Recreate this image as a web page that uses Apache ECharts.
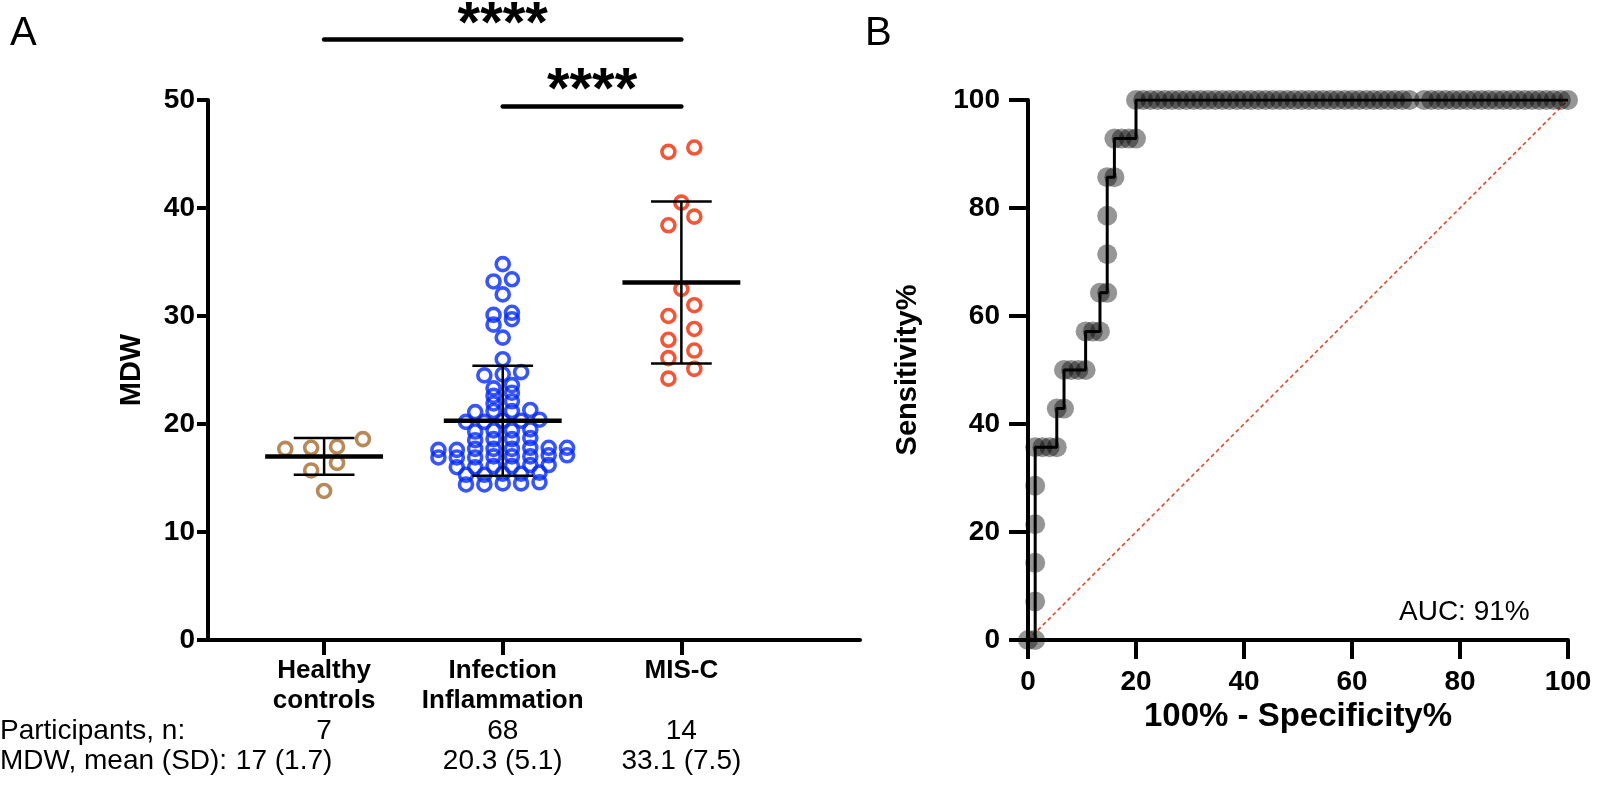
<!DOCTYPE html>
<html>
<head>
<meta charset="utf-8">
<script src="https://cdn.jsdelivr.net/npm/echarts@6/dist/echarts.min.js"></script>
<style>
  html, body { margin: 0; padding: 0; background: #fff; }
  #chart { width: 1599px; height: 800px; }
</style>
</head>
<body>
<div id="chart"></div>
<script>
// ---- panel A : MDW by group ----
const groups = ['Healthy\ncontrols', 'Infection\nInflammation', 'MIS-C']
const participants = [7, 68, 14]
const mdwMean = [17, 20.3, 33.1]
const mdwSd = [1.7, 5.1, 7.5]

const healthy = [18.6, 17.8, 17.9, 17.7, 16.4, 15.7, 13.8]
const infection = [
  14.4, 14.5, 14.6, 14.5, 14.4,
  15.3, 15.4, 15.5, 15.4, 15.3,
  16.0, 16.1, 16.2, 16.1, 16.0, 16.2,
  16.9, 17.0, 17.1, 17.0, 16.9, 17.1, 17.0, 16.9,
  17.6, 17.7, 17.8, 17.7, 17.6, 17.8, 17.7, 17.8,
  18.5, 18.6, 18.7, 18.6,
  19.3, 19.4, 19.5, 19.4,
  20.2, 20.3, 20.4, 20.3, 20.2,
  21.1, 21.2, 21.3, 21.2,
  21.9, 22.1, 22.6, 22.9, 23.3, 23.6,
  24.5, 24.6, 24.8, 26.0, 28.0,
  29.2, 29.7, 30.1, 30.3, 32.0, 33.2, 33.4, 34.8
]
const misc = [45.2, 45.6, 40.5, 38.4, 39.2, 32.5, 31.0, 30.0, 28.8, 27.8, 26.8, 26.1, 25.1, 24.2]

// significance bars: [from group, to group, height, label]
const sigBars = [[1, 3, 55.6, '****'], [2, 3, 49.4, '****']]

// ---- panel B : ROC ----
const rocFpr = [
  0, 1.33, 1.33, 1.33, 1.33, 1.33, 1.33, 2.67, 4, 5.33, 5.33, 6.67, 6.67, 8, 9.33,
  10.67, 10.67, 12, 13.33, 13.33, 14.67, 14.67, 14.67, 14.67, 16, 16, 17.33, 18.67, 20, 20,
  21.33, 22.67, 24, 25.33, 26.67, 28, 29.33, 30.67, 32, 33.33, 34.67, 36, 37.33, 38.67, 40,
  41.33, 42.67, 44, 45.33, 46.67, 48, 49.33, 50.67, 52, 53.33, 54.67, 56, 57.33, 58.67, 60,
  61.33, 62.67, 64, 65.33, 66.67, 68, 69.33, 70.67, 73.33, 74.67, 76, 77.33, 78.67, 80,
  81.33, 82.67, 84, 85.33, 86.67, 88, 89.33, 90.67, 92, 93.33, 94.67, 96, 97.33, 98.67, 100
]
const rocSens = [
  0, 0, 7.14, 14.29, 21.43, 28.57, 35.71, 35.71, 35.71, 35.71, 42.86, 42.86, 50, 50, 50,
  50, 57.14, 57.14, 57.14, 64.29, 64.29, 71.43, 78.57, 85.71, 85.71, 92.86, 92.86, 92.86, 92.86, 100,
  100, 100, 100, 100, 100, 100, 100, 100, 100, 100, 100, 100, 100, 100, 100,
  100, 100, 100, 100, 100, 100, 100, 100, 100, 100, 100, 100, 100, 100, 100,
  100, 100, 100, 100, 100, 100, 100, 100, 100, 100, 100, 100, 100, 100,
  100, 100, 100, 100, 100, 100, 100, 100, 100, 100, 100, 100, 100, 100, 100
]
const aucPct = 91

const FONT = 'Liberation Sans, Arial, sans-serif'

// GraphPad-like scatter layout: group close values into rows, spread rows sideways
function swarm(values, center, bin, spacing, maxHalf) {
  const sorted = values.slice().sort((a, b) => a - b)
  const rows = []
  sorted.forEach(v => {
    const row = rows[rows.length - 1]
    if (row && v - row[0] <= bin) row.push(v)
    else rows.push([v])
  })
  const widest = Math.max(...rows.map(r => r.length))
  const step = widest > 1 ? Math.min(spacing, 2 * maxHalf / (widest - 1)) : spacing
  const pts = []
  rows.forEach(row => row.forEach((v, i) => pts.push([center + (i - (row.length - 1) / 2) * step, v])))
  return pts
}

const chart = echarts.init(document.getElementById('chart'))

const tickLabel = { color: '#000', fontWeight: 'bold', fontSize: 28, fontFamily: FONT }
const axisCommon = {
  axisLine: { lineStyle: { color: '#000', width: 4 } },
  axisTick: { length: 15, lineStyle: { color: '#000', width: 4 } },
  splitLine: { show: false },
  nameTextStyle: { color: '#000', fontWeight: 'bold', fontSize: 29, fontFamily: FONT }
}

function dotSeries(name, values, center, bin, color) {
  return {
    name: name,
    type: 'scatter',
    xAxisIndex: 0, yAxisIndex: 0,
    symbol: 'circle',
    symbolSize: 13,
    itemStyle: { color: 'rgba(255,255,255,0)', borderColor: color, borderWidth: 3.6 },
    data: swarm(values, center, bin, 0.145, 0.36),
    z: 2
  }
}

const labelTop = 16
const lineH = 30

chart.setOption({
  animation: false,
  backgroundColor: '#fff',
  textStyle: { fontFamily: FONT },
  grid: [
    { left: 208, right: 739, top: 100, bottom: 160 },
    { left: 1028, right: 31, top: 100, bottom: 160 }
  ],
  xAxis: [
    Object.assign({}, axisCommon, {
      gridIndex: 0, type: 'value', min: 0.35, max: 4,
      axisTick: { length: 15, lineStyle: { color: '#000', width: 4 }, customValues: [1, 2, 3] },
      axisLabel: {
        customValues: [1, 2, 3],
        margin: labelTop,
        color: '#000',
        fontFamily: FONT,
        formatter: function (v) {
          const i = Math.round(v) - 1
          const name = groups[i].split('\n')
          // first group's summary sits a little to the left in the original
          const pad = i === 0 ? '{pad|}' : ''
          return [
            '{b|' + name[0] + '}',
            '{b|' + (name[1] || ' ') + '}',
            '{r|' + participants[i] + '}',
            '{r|' + mdwMean[i] + ' (' + mdwSd[i] + ')}' + pad
          ].join('\n')
        },
        rich: {
          b: { fontWeight: 'bold', fontSize: 26, lineHeight: lineH, color: '#000', fontFamily: FONT },
          r: { fontSize: 28, lineHeight: lineH, color: '#000', fontFamily: FONT },
          pad: { width: 80, lineHeight: lineH }
        }
      }
    }),
    Object.assign({}, axisCommon, {
      gridIndex: 1, type: 'value', min: 0, max: 100, interval: 20,
      axisTick: { length: 19, lineStyle: { color: '#000', width: 4 } },
      axisLabel: Object.assign({}, tickLabel, { margin: 28 }),
      name: '100% - Specificity%', nameLocation: 'middle', nameGap: 60,
      nameTextStyle: { color: '#000', fontWeight: 'bold', fontSize: 33, fontFamily: FONT }
    })
  ],
  yAxis: [
    Object.assign({}, axisCommon, {
      gridIndex: 0, type: 'value', min: 0, max: 50, interval: 10,
      axisTick: { length: 11, lineStyle: { color: '#000', width: 4 } },
      axisLabel: Object.assign({}, tickLabel, { margin: 13 }),
      name: 'MDW', nameLocation: 'middle', nameGap: 62
    }),
    Object.assign({}, axisCommon, {
      gridIndex: 1, type: 'value', min: 0, max: 100, interval: 20,
      axisTick: { length: 19, lineStyle: { color: '#000', width: 4 } },
      axisLabel: Object.assign({}, tickLabel, { margin: 28 }),
      name: 'Sensitivity%', nameLocation: 'middle', nameGap: 106
    })
  ],
  series: [
    dotSeries('Healthy controls', healthy, 1, 1.2, '#a56c30'),
    dotSeries('Infection Inflammation', infection, 2, 0.6, '#062cf5'),
    dotSeries('MIS-C', misc, 3, 1.2, '#f02c05'),
    {
      name: 'mean_sd',
      type: 'custom',
      xAxisIndex: 0, yAxisIndex: 0,
      z: 5,
      data: mdwMean.map((m, i) => [i + 1, m, mdwSd[i]]),
      renderItem: function (params, api) {
        const x = api.value(0), m = api.value(1), sd = api.value(2)
        const p = (a, b) => api.coord([a, b])
        const seg = (a, b, w) => ({
          type: 'line',
          shape: { x1: a[0], y1: a[1], x2: b[0], y2: b[1] },
          style: { stroke: '#000', lineWidth: w }
        })
        return {
          type: 'group',
          children: [
            seg(p(x, m - sd), p(x, m + sd), 2.5),
            seg(p(x - 0.17, m + sd), p(x + 0.17, m + sd), 2.5),
            seg(p(x - 0.17, m - sd), p(x + 0.17, m - sd), 2.5),
            seg(p(x - 0.33, m), p(x + 0.33, m), 4.5)
          ]
        }
      }
    },
    {
      name: 'significance',
      type: 'custom',
      xAxisIndex: 0, yAxisIndex: 0,
      clip: false,
      z: 5,
      data: sigBars,
      renderItem: function (params, api) {
        const a = api.coord([api.value(0), api.value(2)])
        const b = api.coord([api.value(1), api.value(2)])
        return {
          type: 'group',
          children: [
            {
              type: 'line',
              shape: { x1: a[0], y1: a[1], x2: b[0], y2: b[1] },
              style: { stroke: '#000', lineWidth: 4.5, lineCap: 'round' }
            },
            {
              type: 'text',
              style: {
                x: (a[0] + b[0]) / 2, y: a[1] - 14,
                text: sigBars[params.dataIndex][3],
                fill: '#000', fontSize: 58, fontWeight: 'bold', fontFamily: FONT,
                align: 'center', verticalAlign: 'middle'
              }
            }
          ]
        }
      }
    },
    {
      name: 'chance',
      type: 'line',
      xAxisIndex: 1, yAxisIndex: 1,
      data: [[0, 0], [100, 100]],
      symbol: 'none',
      lineStyle: { color: '#e0401c', width: 1.5, type: [4, 3] },
      z: 1
    },
    {
      name: 'ROC points',
      type: 'scatter',
      xAxisIndex: 1, yAxisIndex: 1,
      symbolSize: 20,
      clip: false,
      itemStyle: { color: 'rgba(0,0,0,0.52)' },
      data: rocFpr.map((x, i) => [x, rocSens[i]]),
      z: 2
    },
    {
      name: 'ROC',
      type: 'line',
      xAxisIndex: 1, yAxisIndex: 1,
      symbol: 'none',
      lineStyle: { color: '#000', width: 3 },
      data: rocFpr.map((x, i) => [x, rocSens[i]]),
      z: 3
    }
  ],
  graphic: [
    { type: 'text', left: 10, top: 14, style: { text: 'A', fontSize: 40, fontFamily: FONT, fill: '#000' } },
    { type: 'text', left: 865, top: 14, style: { text: 'B', fontSize: 40, fontFamily: FONT, fill: '#000' } },
    { type: 'text', left: 0, top: 640 + labelTop + lineH * 2, style: { text: 'Participants, n:', fontSize: 28, fontFamily: FONT, fill: '#000', lineHeight: lineH } },
    { type: 'text', left: 0, top: 640 + labelTop + lineH * 3, style: { text: 'MDW, mean (SD):', fontSize: 28, fontFamily: FONT, fill: '#000', lineHeight: lineH } },
    { type: 'text', left: 1399, top: 598, style: { text: 'AUC: ' + aucPct + '%', fontSize: 28, fontFamily: FONT, fill: '#000' } }
  ]
})
</script>
</body>
</html>
